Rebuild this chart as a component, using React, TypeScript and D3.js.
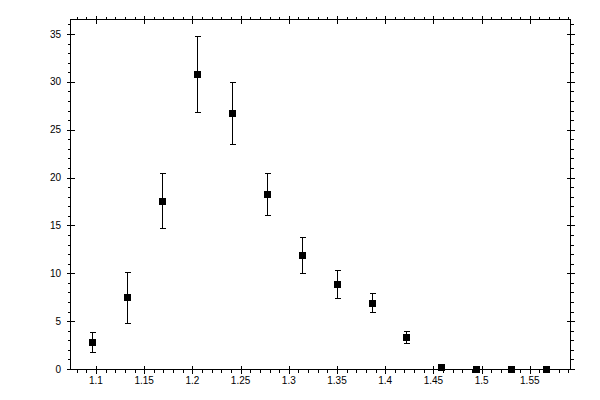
import React from "react";
import * as d3 from "d3";

const xValues = [1.0962, 1.1325, 1.1688, 1.2051, 1.2414, 1.2777, 1.314, 1.3503, 1.386, 1.4219, 1.4582, 1.4945, 1.5308, 1.5671];
const yValues = [2.82, 7.5, 17.6, 30.8, 26.7, 18.3, 11.9, 8.9, 6.92, 3.36, 0.2, 0.03, 0.02, 0.02];
const yErrors = [1.0, 2.65, 2.9, 3.97, 3.24, 2.17, 1.88, 1.48, 1.0, 0.66, 0.1, 0.02, 0.01, 0.01];

const xMajorTicks = [1.1, 1.15, 1.2, 1.25, 1.3, 1.35, 1.4, 1.45, 1.5, 1.55];
const xTickLabels = ["1.1", "1.15", "1.2", "1.25", "1.3", "1.35", "1.4", "1.45", "1.5", "1.55"];
const yMajorTicks = [0, 5, 10, 15, 20, 25, 30, 35];
const yTickLabels = ["0", "5", "10", "15", "20", "25", "30", "35"];

const W = 600;
const H = 400;
const left = 70;
const right = 570;
const top = 19;
const bottom = 369;

export default function App() {
  const x = d3.scaleLinear().domain([1.07303, 1.59171]).range([left, right]);
  const y = d3.scaleLinear().domain([0, 36.57]).range([bottom, top]);

  const xMinor = x.ticks(50).filter((t) => !xMajorTicks.some((m) => Math.abs(m - t) < 1e-6));
  const yMinor = y.ticks(40).filter((t) => !yMajorTicks.some((m) => Math.abs(m - t) < 1e-6));

  const px = (v: number) => Math.round(x(v)) + 0.5;
  const py = (v: number) => Math.round(y(v)) + 0.5;

  const L = left + 0.5;
  const R = right + 0.5;
  const T = top + 0.5;
  const B = bottom + 0.5;

  const font = { fontFamily: "'Liberation Sans', Arial, sans-serif", fontSize: 10 };
  const ms = 7;
  const cap = 3;

  return (
    <svg
      width={W}
      height={H}
      style={{ position: "absolute", left: 0, top: 0, background: "#fff" }}
      shapeRendering="crispEdges"
    >
      <rect x={0} y={0} width={W} height={H} fill="#fff" />
      <g stroke="#000" strokeWidth={1} fill="none">
        <rect x={L} y={T} width={R - L} height={B - T} />
        {xMajorTicks.map((t) => (
          <g key={"xm" + t}>
            <line x1={px(t)} x2={px(t)} y1={B - 4} y2={B + 4} />
            <line x1={px(t)} x2={px(t)} y1={T - 4} y2={T + 4} />
          </g>
        ))}
        {xMinor.map((t) => (
          <g key={"xn" + t}>
            <line x1={px(t)} x2={px(t)} y1={B} y2={B + 3} />
            <line x1={px(t)} x2={px(t)} y1={T - 3} y2={T} />
          </g>
        ))}
        {yMajorTicks.map((t) => (
          <g key={"ym" + t}>
            <line x1={L - 4} x2={L + 4} y1={py(t)} y2={py(t)} />
            <line x1={R - 4} x2={R + 4} y1={py(t)} y2={py(t)} />
          </g>
        ))}
        {yMinor.map((t) => (
          <g key={"yn" + t}>
            <line x1={L - 3} x2={L} y1={py(t)} y2={py(t)} />
            <line x1={R} x2={R + 3} y1={py(t)} y2={py(t)} />
          </g>
        ))}
      </g>
      <g style={font} fill="#000">
        {xMajorTicks.map((t, i) => (
          <text key={"xl" + t} x={x(t)} y={384} textAnchor="middle">
            {xTickLabels[i]}
          </text>
        ))}
        {yMajorTicks.map((t, i) => (
          <text key={"yl" + t} x={61} y={y(t) + 3.5} textAnchor="end">
            {yTickLabels[i]}
          </text>
        ))}
      </g>
      <g stroke="#000" strokeWidth={1}>
        {xValues.map((xv, i) => {
          const cx = px(xv);
          const hi = py(yValues[i] + yErrors[i]);
          const lo = py(yValues[i] - yErrors[i]);
          return (
            <g key={"e" + i}>
              <line x1={cx} x2={cx} y1={hi} y2={lo} />
              <line x1={cx - cap} x2={cx + cap} y1={hi} y2={hi} />
              <line x1={cx - cap} x2={cx + cap} y1={lo} y2={lo} />
            </g>
          );
        })}
      </g>
      <g fill="#000">
        {xValues.map((xv, i) => (
          <rect
            key={"m" + i}
            x={Math.round(x(xv)) - 3}
            y={Math.round(y(yValues[i])) - 3}
            width={ms}
            height={ms}
          />
        ))}
      </g>
    </svg>
  );
}
